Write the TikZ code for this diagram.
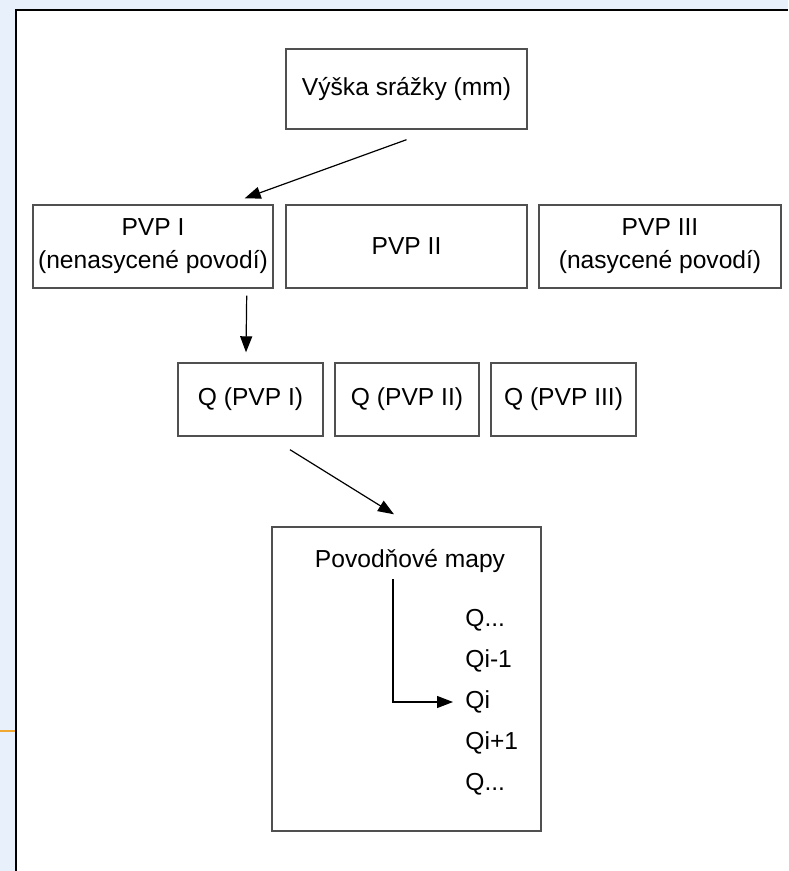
\documentclass[tikz,border=0pt]{standalone}
\usepackage{fontspec}
\setmainfont{Liberation Sans}
\usetikzlibrary{arrows.meta,calc}
\definecolor{bgblue}{HTML}{E8F0FB}
\definecolor{boxline}{HTML}{505050}
\definecolor{orangeline}{HTML}{F0A830}
\begin{document}
\begin{tikzpicture}[x=0.5pt,y=-0.5pt,
  box/.style={draw=boxline, line width=0.7pt, fill=white, inner sep=0pt, align=center,
    font=\fontsize{12.3}{16.5}\selectfont, text=black},
  arr/.style={-{Triangle[length=8pt,width=6pt]}, line width=0.6pt},
  lbl/.style={font=\fontsize{12.3}{14}\selectfont, anchor=west, inner sep=0pt, text=black}]
\useasboundingbox (0,0) rectangle (788,871);
\fill[bgblue] (0,0) rectangle (788,871);
\fill[white] (16,10) rectangle (788,871);
\draw[line width=1pt] (16,871) -- (16,10) -- (788,10);
\draw[orangeline, line width=0.8pt] (0,731) -- (15,731);

\node[box, minimum width=120.5pt, minimum height=40pt] (rain) at (406.5,89) {Výška srážky (mm)};

\node[box, minimum width=120pt, minimum height=41.5pt] (p1) at (153,246.5) {PVP I\\(nenasycené povodí)};
\node[box, minimum width=120.5pt, minimum height=41.5pt] (p2) at (406.5,246.5) {PVP II};
\node[box, minimum width=121pt, minimum height=41.5pt] (p3) at (660,246.5) {PVP III\\(nasycené povodí)};

\node[box, minimum width=72.5pt, minimum height=36.5pt] (qa) at (250.5,399.5) {Q (PVP I)};
\node[box, minimum width=72pt, minimum height=36.5pt] (qb) at (407,399.5) {Q (PVP II)};
\node[box, minimum width=72.5pt, minimum height=36.5pt] (qc) at (563.5,399.5) {Q (PVP III)};

\node[box, minimum width=134.5pt, minimum height=152pt] (map) at (406.5,679) {};
\node[inner sep=0pt, font=\fontsize{12.3}{14}\selectfont] (maptitle) at (410,561) {Povodňové mapy};

\node[lbl] (l1) at (465,620) {Q...};
\node[lbl] (l2) at (465,661) {Qi-1};
\node[lbl] (l3) at (465,702) {Qi};
\node[lbl] (l4) at (465,743) {Qi+1};
\node[lbl] (l5) at (465,784) {Q...};

\draw[arr] ($(rain.south)+(0,10)$) -- ($(p1.north east)+(-29,-6)$);
\draw[arr] ($(p1.south east)+(-27,7)$) -- ($(qa.north)+(-4.5,-10)$);
\draw[arr] ($(qa.south)+(39.5,13)$) -- ($(map.north)+(-12.5,-12)$);
\coordinate (mstart) at (393,579);
\draw[arr] (mstart) |- ($(l3.west)+(-12,0)$);
\end{tikzpicture}
\end{document}
